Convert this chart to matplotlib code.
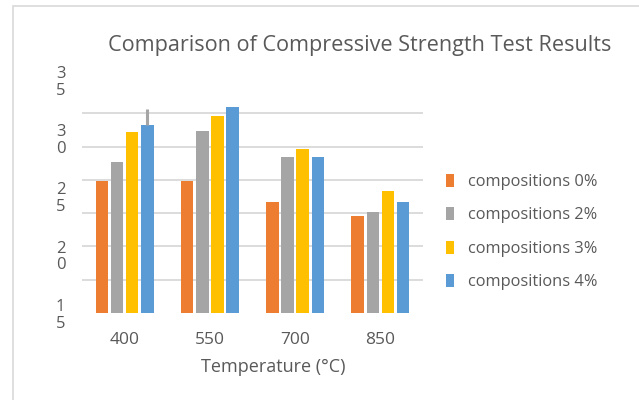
import numpy as np
import matplotlib
matplotlib.use("Agg")
import matplotlib.pyplot as plt
from matplotlib.patches import Rectangle, Patch

plt.rcParams['font.family'] = ['Open Sans', 'DejaVu Sans']

temps = ['400', '550', '700', '850']
series_names = ['compositions 0%', 'compositions 2%', 'compositions 3%', 'compositions 4%']
comp_0 = [26.3, 26.3, 24.5, 23.3]
comp_2 = [28.0, 30.6, 28.4, 23.7]
comp_3 = [30.5, 31.9, 29.1, 25.5]
comp_4 = [31.1, 32.7, 28.4, 24.5]
err_up_4 = [1.4, 0, 0, 0]
ytick_vals = [15, 20, 25, 30, 35]
ytick_text = ['1\n5', '2\n0', '2\n5', '3\n0', '3\n5']

colors = ['#ED7D31', '#A5A5A5', '#FFC000', '#5B9BD5']
text_col = '#595959'

fig = plt.figure(figsize=(6.39, 4.0), dpi=100)
fig.patches.append(Rectangle((13 / 639, -0.1), 1.0, 1 - 5.5 / 400 + 0.1, transform=fig.transFigure,
                             fill=False, edgecolor='#D9D9D9', linewidth=1.2))

ax = fig.add_axes([82 / 639, 1 - 313 / 400, (423 - 82) / 639, (313 - 80) / 400])

x = np.arange(len(temps))
step = 0.178
width = 0.147
all_series = [comp_0, comp_2, comp_3, comp_4]
for i, vals in enumerate(all_series):
    pos = x + (i - 1.5) * step
    bottoms = [15] * len(vals)
    heights = [v - 15 for v in vals]
    ax.bar(pos, heights, width, bottom=bottoms, color=colors[i], zorder=3)
    if i == 3:
        lo = [0] * len(vals)
        ax.errorbar(pos[:1], vals[:1], yerr=[lo[:1], err_up_4[:1]], fmt='none',
                    ecolor='#A5A5A5', elinewidth=2.2, capsize=0, zorder=4)

ax.set_xlim(-0.5, 3.5)
ax.set_ylim(15, 35)
ax.set_xticks(x)
ax.set_xticklabels(temps, fontsize=12.5, color=text_col)
ax.set_yticks(ytick_vals)
ax.set_yticklabels(ytick_text, fontsize=12, color=text_col, linespacing=1.05)
ax.set_yticks(15 + np.arange(8) * 20 / 7, minor=True)
ax.tick_params(axis='x', length=0, pad=14)
ax.tick_params(axis='y', which='both', length=0, pad=12)
ax.grid(False)
ax.grid(True, which='minor', axis='y', color='#D9D9D9', linewidth=1.3, zorder=0)
for s in ax.spines.values():
    s.set_visible(False)

fig.text(360 / 639, 1 - 45 / 400, 'Comparison of Compressive Strength Test Results',
         ha='center', va='center', fontsize=15.6, color=text_col)
fig.text(273 / 639, 1 - 367 / 400, 'Temperature (°C)', ha='center', va='center',
         fontsize=13, color=text_col)

handles = [Patch(facecolor=c, edgecolor='none') for c in colors]
fig.legend(handles, series_names, loc='center left', bbox_to_anchor=(431 / 639, 1 - 232 / 400),
           frameon=False, fontsize=11.8, labelcolor=text_col, handlelength=0.5,
           handleheight=0.85, handletextpad=0.85, labelspacing=1.05)

fig.savefig('out.png', dpi=100)
